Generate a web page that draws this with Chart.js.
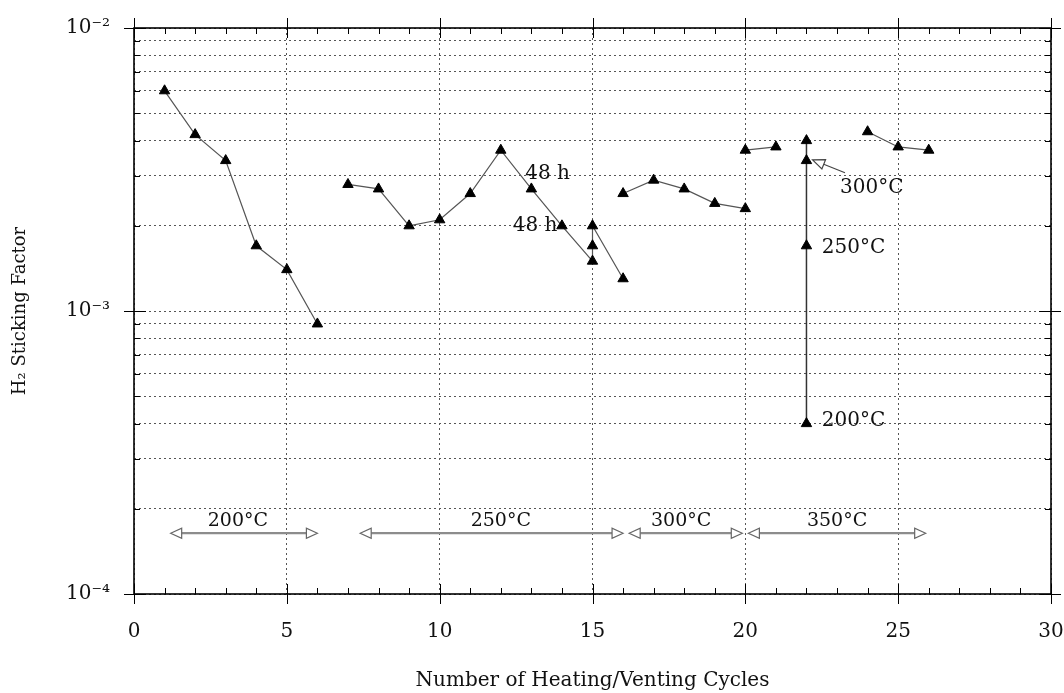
<!DOCTYPE html>
<html>
<head>
<meta charset="utf-8">
<script src="https://cdn.jsdelivr.net/npm/chart.js@4"></script>
<style>
  body { margin: 0; background: #fff; }
</style>
</head>
<body>
<canvas id="grafica" width="1064" height="693"></canvas>
<script>
// Sticking factor per cycle, one array per bake temperature
const cycles200 = [1, 2, 3, 4, 5, 6];
const stick200 = [6.0e-3, 4.2e-3, 3.4e-3, 1.7e-3, 1.4e-3, 0.9e-3];

const cycles250 = [7, 8, 9, 10, 11, 12, 13, 14, 15, 15, 15, 16];
const stick250 = [2.8e-3, 2.7e-3, 2.0e-3, 2.1e-3, 2.6e-3, 3.7e-3, 2.7e-3, 2.0e-3, 1.5e-3, 1.7e-3, 2.0e-3, 1.3e-3];

const cycles300 = [16, 17, 18, 19, 20];
const stick300 = [2.6e-3, 2.9e-3, 2.7e-3, 2.4e-3, 2.3e-3];

const cycles350a = [20, 21];
const stick350a = [3.7e-3, 3.8e-3];
const cycles350step = [22, 22, 22, 22];
const stick350step = [0.4e-3, 1.7e-3, 3.4e-3, 4.0e-3];
const cycles350b = [24, 25, 26];
const stick350b = [4.3e-3, 3.8e-3, 3.7e-3];

// axis ticks
const yDecades = [1e-4, 1e-3, 1e-2];
const yDecadeLabels = ['10⁻⁴', '10⁻³', '10⁻²'];
const yMantissas = [1, 2, 3, 4, 5, 6, 7, 8, 9];

// temperature ranges along the bottom
const rangeLabels = ['200°C', '250°C', '300°C', '350°C'];
const rangeFrom = [1.2, 7.4, 16.2, 20.1];
const rangeTo = [6.0, 16.0, 19.9, 25.9];
const rangeTextX = [3.4, 12.0, 17.9, 23.0];
const rangeLevel = 1.64e-4;

// text notes
const noteTexts = ['48 h', '48 h', '300°C', '250°C', '200°C'];
const noteX = [12.8, 13.85, 23.1, 22.5, 22.5];
const noteY = [3.05e-3, 2.0e-3, 2.72e-3, 1.67e-3, 4.1e-4];
const noteAlign = ['left', 'right', 'left', 'left', 'left'];

const FONT = '"DejaVu Serif", "Liberation Serif", serif';

function serie(xs, ys, extra) {
  return Object.assign({
    data: xs.map((x, i) => ({ x: x, y: ys[i] })),
    borderColor: '#555',
    borderWidth: 1.2,
    pointStyle: 'triangle',
    pointRadius: 6,
    pointHoverRadius: 6,
    pointBackgroundColor: '#000',
    pointBorderColor: '#000',
    pointBorderWidth: 1,
    fill: false,
    tension: 0
  }, extra || {});
}

function flecha(ctx, x1, x2, yy) {
  const head = 11, half = 5;
  ctx.beginPath();
  ctx.moveTo(x1 + head, yy);
  ctx.lineTo(x2 - head, yy);
  ctx.strokeStyle = '#8c8c8c';
  ctx.lineWidth = 2.2;
  ctx.stroke();
  ctx.lineWidth = 1.2;
  ctx.strokeStyle = '#666';
  ctx.fillStyle = '#fff';
  [[x1, 1], [x2, -1]].forEach(([tip, dir]) => {
    ctx.beginPath();
    ctx.moveTo(tip, yy);
    ctx.lineTo(tip + dir * head, yy - half);
    ctx.lineTo(tip + dir * head, yy + half);
    ctx.closePath();
    ctx.fill();
    ctx.stroke();
  });
}

const decoraciones = {
  id: 'decoraciones',
  afterDraw(chart) {
    const { ctx, chartArea: a, scales: { x, y } } = chart;
    ctx.save();

    // frame
    ctx.strokeStyle = '#000';
    ctx.lineWidth = 1.6;
    ctx.strokeRect(a.left, a.top, a.right - a.left, a.bottom - a.top);

    // x ticks
    ctx.lineWidth = 1;
    for (let i = 0; i <= 30; i++) {
      const px = Math.round(x.getPixelForValue(i)) + 0.5;
      const major = i % 5 === 0;
      const inside = major ? 10 : 6;
      const outside = major ? 10 : 0;
      ctx.beginPath();
      ctx.moveTo(px, a.bottom + outside);
      ctx.lineTo(px, a.bottom - inside);
      ctx.moveTo(px, a.top - outside);
      ctx.lineTo(px, a.top + inside);
      ctx.stroke();
    }

    // y ticks
    y.ticks.forEach(t => {
      const py = Math.round(y.getPixelForValue(t.value)) + 0.5;
      const major = yDecades.some(d => Math.abs(d - t.value) < d * 1e-6);
      const inside = major ? 12 : 6;
      const outside = major ? 10 : 0;
      ctx.beginPath();
      ctx.moveTo(a.left - outside, py);
      ctx.lineTo(a.left + inside, py);
      ctx.moveTo(a.right + outside, py);
      ctx.lineTo(a.right - inside, py);
      ctx.stroke();
    });

    // bottom temperature ranges
    const ya = y.getPixelForValue(rangeLevel);
    ctx.font = '19px ' + FONT;
    ctx.textAlign = 'center';
    ctx.textBaseline = 'middle';
    rangeLabels.forEach((lab, i) => {
      flecha(ctx, x.getPixelForValue(rangeFrom[i]), x.getPixelForValue(rangeTo[i]), ya);
      ctx.fillStyle = '#111';
      ctx.fillText(lab, x.getPixelForValue(rangeTextX[i]), ya - 12);
    });

    // notes
    ctx.font = '20px ' + FONT;
    ctx.fillStyle = '#111';
    noteTexts.forEach((txt, i) => {
      ctx.textAlign = noteAlign[i];
      ctx.fillText(txt, x.getPixelForValue(noteX[i]), y.getPixelForValue(noteY[i]));
    });

    // arrow from "300°C" to its point
    const tx = x.getPixelForValue(23.26), ty = y.getPixelForValue(3.08e-3);
    const hx = x.getPixelForValue(22.2), hy = y.getPixelForValue(3.42e-3);
    const ang = Math.atan2(hy - ty, hx - tx);
    const bx = hx - Math.cos(ang) * 12, by = hy - Math.sin(ang) * 12;
    ctx.strokeStyle = '#444';
    ctx.lineWidth = 1.2;
    ctx.beginPath();
    ctx.moveTo(tx, ty);
    ctx.lineTo(bx, by);
    ctx.stroke();
    ctx.beginPath();
    ctx.moveTo(hx, hy);
    ctx.lineTo(bx + Math.sin(ang) * 5, by - Math.cos(ang) * 5);
    ctx.lineTo(bx - Math.sin(ang) * 5, by + Math.cos(ang) * 5);
    ctx.closePath();
    ctx.fillStyle = '#fff';
    ctx.fill();
    ctx.stroke();

    ctx.restore();
  }
};

new Chart(document.getElementById('grafica').getContext('2d'), {
  type: 'line',
  data: {
    datasets: [
      serie(cycles200, stick200),
      serie(cycles250, stick250),
      serie(cycles300, stick300),
      serie(cycles350a, stick350a),
      serie(cycles350step, stick350step, { borderColor: '#333', borderWidth: 1.5 }),
      serie(cycles350b, stick350b)
    ]
  },
  options: {
    responsive: false,
    animation: false,
    events: [],
    layout: { padding: { top: 28, right: 13, left: 0, bottom: 0 } },
    plugins: { legend: { display: false }, tooltip: { enabled: false } },
    scales: {
      x: {
        type: 'linear',
        min: 0,
        max: 30,
        afterFit: s => { s.height = 99; s.paddingLeft = 0; s.paddingRight = 0; },
        ticks: { stepSize: 5, padding: 26, color: '#111', font: { family: FONT, size: 20 } },
        grid: { color: '#555', lineWidth: 1, drawTicks: false },
        border: { display: false, dash: [2, 3] },
        title: {
          display: true,
          text: 'Number of Heating/Venting Cycles',
          color: '#111',
          font: { family: FONT, size: 20 },
          padding: { top: 0, bottom: 0 }
        }
      },
      y: {
        type: 'logarithmic',
        min: 1e-4,
        max: 1e-2,
        afterFit: s => { s.width = 134; s.paddingTop = 0; s.paddingBottom = 0; },
        afterBuildTicks: s => {
          const vals = [];
          [1e-4, 1e-3].forEach(d => yMantissas.forEach(m => vals.push(m * d)));
          vals.push(1e-2);
          s.ticks = vals.map(v => ({ value: v }));
        },
        ticks: {
          padding: 24,
          color: '#111',
          font: { family: FONT, size: 20 },
          autoSkip: false,
          callback: v => {
            const k = yDecades.findIndex(d => Math.abs(d - v) < d * 1e-6);
            return k >= 0 ? yDecadeLabels[k] : '';
          }
        },
        grid: { color: '#555', lineWidth: 1, drawTicks: false },
        border: { display: false, dash: [2, 3] },
        title: {
          display: true,
          text: 'H₂ Sticking Factor',
          color: '#111',
          font: { family: FONT, size: 18 },
          padding: { top: 10, bottom: 0 }
        }
      }
    }
  },
  plugins: [decoraciones]
});
</script>
</body>
</html>
